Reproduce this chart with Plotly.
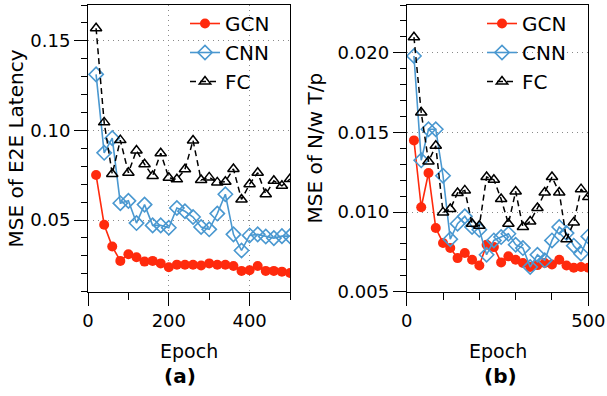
import plotly.graph_objects as go

# ---------------- data ----------------
epochs = [20, 40, 60, 80, 100, 120, 140, 160, 180, 200, 220, 240, 260,
          280, 300, 320, 340, 360, 380, 400, 420, 440, 460, 480, 500]

# (a) MSE of E2E Latency
gcn_a = [0.0751, 0.0474, 0.0352, 0.0272, 0.0309, 0.0292, 0.0268, 0.0272, 0.0258,
         0.0236, 0.0251, 0.0250, 0.0250, 0.0246, 0.0258, 0.0250, 0.0250, 0.0243,
         0.0216, 0.0220, 0.0243, 0.0216, 0.0216, 0.0212, 0.0204]
cnn_a = [0.1313, 0.0875, 0.0957, 0.0594, 0.0607, 0.0483, 0.0586, 0.0470, 0.0470,
         0.0457, 0.0567, 0.0549, 0.0517, 0.0461, 0.0448, 0.0536, 0.0644, 0.0420,
         0.0330, 0.0414, 0.0420, 0.0408, 0.0399, 0.0410, 0.0410]
fc_a = [0.1570, 0.1045, 0.0757, 0.0946, 0.0764, 0.0888, 0.0811, 0.0746, 0.0873,
        0.0736, 0.0727, 0.0783, 0.0944, 0.0723, 0.0738, 0.0710, 0.0714, 0.0785,
        0.0615, 0.0700, 0.0764, 0.0644, 0.0719, 0.0691, 0.0729]

# (b) MSE of N/w T/p
gcn_b = [0.0145, 0.0103, 0.01245, 0.0090, 0.00806, 0.00774, 0.00711, 0.00743, 0.00701,
         0.00665, 0.00795, 0.00780, 0.00684, 0.00722, 0.00701, 0.00680, 0.00655, 0.00667,
         0.00680, 0.00671, 0.00701, 0.00665, 0.00650, 0.00655, 0.00650]
cnn_b = [0.0198, 0.01325, 0.0152, 0.0152, 0.01228, 0.0083, 0.00927, 0.00973, 0.00906,
         0.00889, 0.00732, 0.00822, 0.00843, 0.00864, 0.00795, 0.00774, 0.00655, 0.00732,
         0.00697, 0.00822, 0.00906, 0.00868, 0.00789, 0.00738, 0.00847]
fc_b = [0.02098, 0.01625, 0.01317, 0.01416, 0.00998, 0.01019, 0.0112, 0.01136, 0.00927,
        0.00914, 0.0122, 0.01203, 0.01082, 0.00927, 0.01129, 0.00906, 0.00941, 0.01025,
        0.01123, 0.0122, 0.01123, 0.0083, 0.00935, 0.01144, 0.01094]

series_names = ["GCN", "CNN", "FC"]

# ---------------- style ----------------
FONT = "DejaVu Sans"
RED = "#ff2a0d"
BLUE = "#4a98d0"
BLACK = "#000000"

styles = {
    "GCN": dict(mode="lines+markers", line=dict(color=RED, width=1.6),
                marker=dict(symbol="circle", size=10, color=RED,
                            line=dict(color=RED, width=0))),
    "CNN": dict(mode="lines+markers", line=dict(color=BLUE, width=1.6),
                marker=dict(symbol="diamond-open", size=11, color=BLUE,
                            line=dict(color=BLUE, width=1.6))),
    "FC": dict(mode="lines+markers", line=dict(color=BLACK, width=1.5, dash="6px,4px"),
               marker=dict(symbol="triangle-up-open", size=10, color=BLACK,
                           line=dict(color=BLACK, width=1.5))),
}

fig = go.Figure()

panel_a = {"GCN": gcn_a, "CNN": cnn_a, "FC": fc_a}
panel_b = {"GCN": gcn_b, "CNN": cnn_b, "FC": fc_b}

for name in series_names:
    fig.add_trace(go.Scatter(x=epochs, y=panel_a[name], name=name,
                             xaxis="x", yaxis="y", legend="legend",
                             **styles[name]))
for name in series_names:
    fig.add_trace(go.Scatter(x=epochs, y=panel_b[name], name=name,
                             xaxis="x2", yaxis="y2", legend="legend2",
                             **styles[name]))

W, H = 607, 396
ydom = [1 - 291.7 / H, 1 - 5 / H]

common = dict(showline=True, linecolor="black", linewidth=1, mirror=True,
              ticks="outside", ticklen=13, tickwidth=1, tickcolor="black",
              zeroline=False, automargin=False,
              gridcolor="#8a8a8a", griddash="1px,4px", gridwidth=1,
              tickfont=dict(family=FONT, size=18, color="black"))

fig.update_layout(
    width=W, height=H,
    margin=dict(l=0, r=0, t=0, b=0),
    paper_bgcolor="white", plot_bgcolor="white",
    font=dict(family=FONT, size=18, color="black"),
    xaxis=dict(domain=[88 / W, 290 / W], range=[0, 500], dtick=200, tick0=0,
               showgrid=True, anchor="y",
               minor=dict(dtick=100, ticks="outside", ticklen=7, tickcolor="black",
                          showgrid=False),
               **common),
    yaxis=dict(domain=ydom, range=[0.01, 0.17], dtick=0.05, tick0=0,
               tickformat=".2f", showgrid=True, anchor="x",
               minor=dict(dtick=0.01, tick0=0, ticks="outside", ticklen=6,
                          tickcolor="black", showgrid=False),
               **common),
    xaxis2=dict(domain=[406.7 / W, 588.3 / W], range=[0, 500], dtick=500, tick0=0,
                showgrid=False, anchor="y2",
                minor=dict(dtick=100, ticks="outside", ticklen=7, tickcolor="black",
                           showgrid=False),
                **common),
    yaxis2=dict(domain=ydom, range=[0.005, 0.023], dtick=0.005, tick0=0,
                tickformat=".3f", showgrid=True, anchor="x2",
                minor=dict(dtick=0.001, tick0=0, ticks="outside", ticklen=6,
                           tickcolor="black", showgrid=False),
                **common),
    legend=dict(x=185 / W, y=1 - 4 / H, xanchor="left", yanchor="top",
                bgcolor="rgba(0,0,0,0)", borderwidth=0,
                font=dict(family=FONT, size=20, color="black"),
                itemwidth=30, tracegroupgap=0),
    legend2=dict(x=482 / W, y=1 - 4 / H, xanchor="left", yanchor="top",
                 bgcolor="rgba(0,0,0,0)", borderwidth=0,
                 font=dict(family=FONT, size=20, color="black"),
                 itemwidth=30, tracegroupgap=0),
)

annots = [
    dict(text="MSE of E2E Latency", x=15 / W, y=1 - 148.5 / H, textangle=-90,
         font=dict(family=FONT, size=20)),
    dict(text="MSE of N/w T/p", x=314 / W, y=1 - 148.5 / H, textangle=-90,
         font=dict(family=FONT, size=20)),
    dict(text="Epoch", x=189 / W, y=1 - 351 / H, font=dict(family=FONT, size=19)),
    dict(text="Epoch", x=497.5 / W, y=1 - 351 / H, font=dict(family=FONT, size=19)),
    dict(text="<b>(a)</b>", x=180 / W, y=1 - 376 / H, font=dict(family=FONT, size=20)),
    dict(text="<b>(b)</b>", x=500 / W, y=1 - 376 / H, font=dict(family=FONT, size=20)),
]
for a in annots:
    fig.add_annotation(xref="paper", yref="paper", showarrow=False,
                       xanchor="center", yanchor="middle", **a)

# remove the browser's default 8px page margin so the figure sits at (0,0)
fig.write_html("out.html",
               config={"displayModeBar": False},
               post_script="document.body.style.margin='0px';")
